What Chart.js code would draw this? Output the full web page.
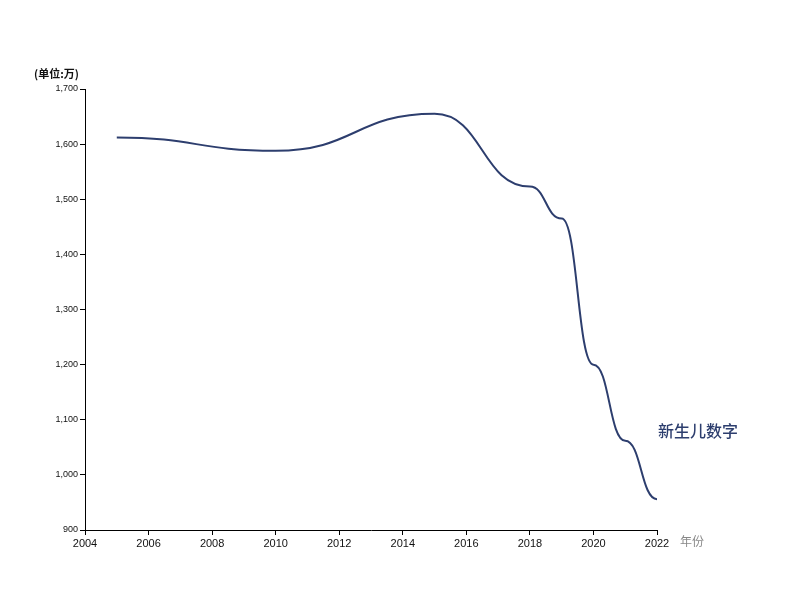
<!DOCTYPE html>
<html>
<head>
<meta charset="utf-8">
<script src="https://cdn.jsdelivr.net/npm/chart.js@4"></script>
<style>
  body { margin: 0; background: #fff; }
  #birthChart { display: block; }
</style>
</head>
<body>
<canvas id="birthChart" width="800" height="600"></canvas>
<script>
const years = [2005, 2010, 2015, 2018, 2019, 2020, 2021, 2022];
const births = [1612, 1588, 1655, 1523, 1465, 1200, 1062, 956];
const yTicks = [900, 1000, 1100, 1200, 1300, 1400, 1500, 1600, 1700];
const xTicks = [2004, 2006, 2008, 2010, 2012, 2014, 2016, 2018, 2020, 2022];

const lineColor = "#2d3e6e";

// horizontal tangents at every point, like d3.curveBumpX
const bumpCurve = {
  id: "bumpCurve",
  beforeDatasetDraw(chart, args) {
    const meta = args.meta;
    const line = meta.dataset;
    const pts = meta.data;
    line.updateControlPoints(chart.chartArea, "x");
    for (let i = 0; i < pts.length; i++) {
      const p = pts[i];
      const prev = pts[i - 1] || p;
      const next = pts[i + 1] || p;
      p.cp1x = (prev.x + p.x) / 2;
      p.cp1y = p.y;
      p.cp2x = (p.x + next.x) / 2;
      p.cp2y = p.y;
    }
    line._path = undefined;
  }
};

const labels = {
  id: "labels",
  afterDraw(chart) {
    const ctx = chart.ctx;
    const area = chart.chartArea;
    ctx.save();
    ctx.textBaseline = "middle";
    ctx.fillStyle = "#111";
    ctx.font = "bold 11px 'Noto Sans CJK SC'";
    ctx.textAlign = "left";
    ctx.fillText("(单位:万)", 34, 74);

    ctx.fillStyle = "#888";
    ctx.font = "12px 'Noto Sans CJK SC'";
    ctx.fillText("年份", area.right + 23, 541);

    ctx.fillStyle = lineColor;
    ctx.font = "500 16px 'Noto Sans CJK SC'";
    ctx.fillText("新生儿数字", area.right + 1, 431);
    ctx.restore();
  }
};

new Chart(document.getElementById("birthChart"), {
  type: "line",
  data: {
    datasets: [
      {
        label: "新生儿数字",
        data: years.map((y, i) => ({ x: y, y: births[i] })),
        borderColor: lineColor,
        borderWidth: 2,
        pointRadius: 0,
        tension: 0.4,
        fill: false
      }
    ]
  },
  options: {
    responsive: false,
    animation: false,
    layout: { padding: { left: 25, right: 143, top: 89, bottom: 40 } },
    plugins: {
      legend: { display: false },
      tooltip: { enabled: false }
    },
    scales: {
      x: {
        type: "linear",
        min: 2004,
        max: 2022,
        afterFit: (s) => { s.height = 30; },
        afterBuildTicks: (s) => { s.ticks = xTicks.map((v) => ({ value: v })); },
        grid: { drawOnChartArea: false, drawTicks: true, tickLength: 5, color: "#000" },
        border: { display: true, color: "#000", width: 1 },
        ticks: {
          color: "#111",
          font: { family: "'Liberation Sans', Arial", size: 11 },
          padding: 2,
          maxRotation: 0,
          callback: (v) => String(v)
        }
      },
      y: {
        min: 900,
        max: 1700,
        afterFit: (s) => { s.width = 60; },
        afterBuildTicks: (s) => { s.ticks = yTicks.map((v) => ({ value: v })); },
        grid: { drawOnChartArea: false, drawTicks: true, tickLength: 5, color: "#000" },
        border: { display: true, color: "#000", width: 1 },
        ticks: {
          color: "#111",
          font: { family: "'Liberation Sans', Arial", size: 9 },
          padding: 2,
          callback: (v) => v.toLocaleString("en-US")
        }
      }
    }
  },
  plugins: [bumpCurve, labels]
});
</script>
</body>
</html>
